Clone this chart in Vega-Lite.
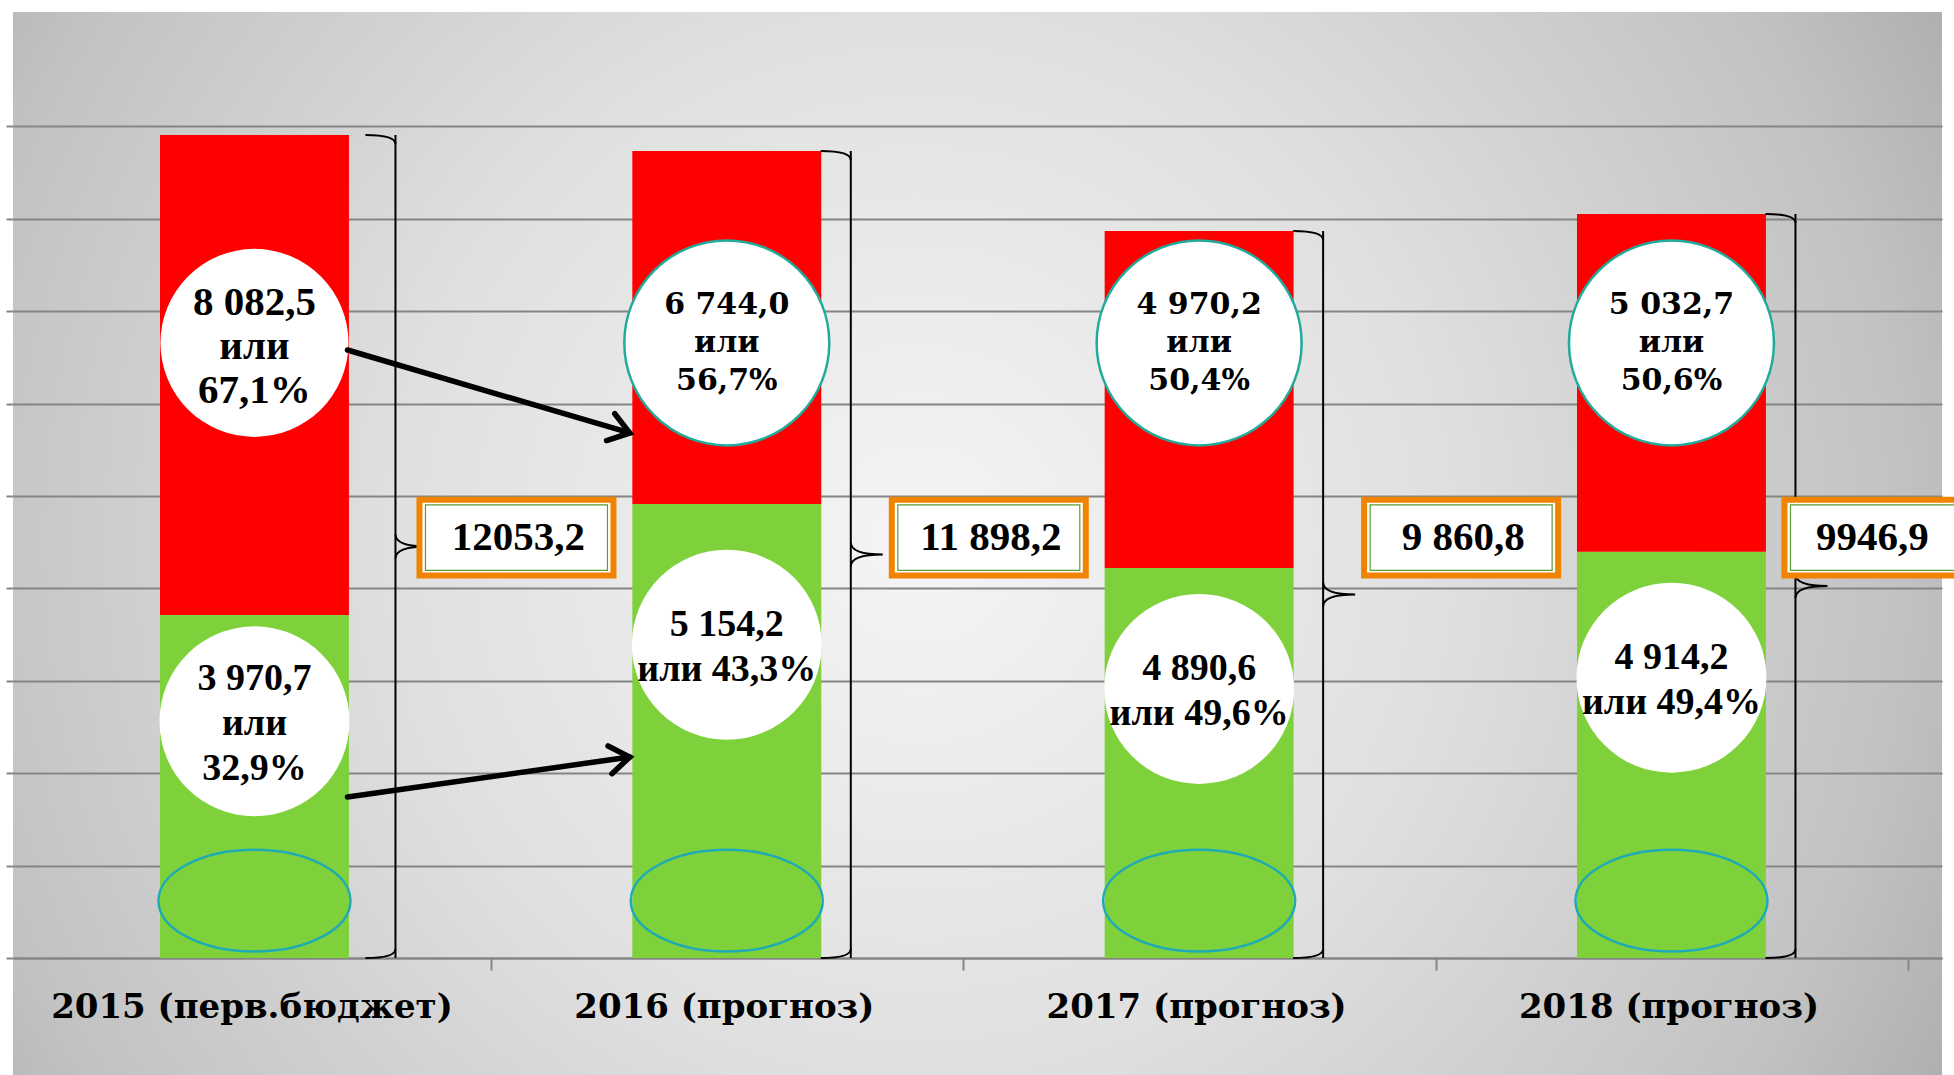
{
  "$schema": "https://vega.github.io/schema/vega-lite/v6.json",
  "autosize": "none",
  "width": 1929,
  "height": 1063,
  "padding": {"left": 13, "top": 12, "right": 12, "bottom": 0},
  "background": "#ffffff",
  "config": {
    "view": {
      "stroke": null,
      "fill": {
        "gradient": "radial", "x1": 0.47, "y1": 0.5, "r1": 0, "x2": 0.47, "y2": 0.5, "r2": 0.6,
        "stops": [
          {"offset": 0, "color": "#f5f5f5"},
          {"offset": 0.45, "color": "#e0e0e0"},
          {"offset": 0.85, "color": "#c2c2c2"},
          {"offset": 1, "color": "#afafaf"}
        ]
      }
    }
  },
  "datasets": {
    "main": [
      {"year": "2015 (перв.бюджет)", "part": "собственные доходы", "value": 3712, "label": "3 970,7\nили\n32,9%"},
      {"year": "2015 (перв.бюджет)", "part": "безвозмездные поступления", "value": 5195, "label": "8 082,5\nили\n67,1%"},
      {"year": "2016 (прогноз)", "part": "собственные доходы", "value": 4913, "label": "5 154,2\nили 43,3%"},
      {"year": "2016 (прогноз)", "part": "безвозмездные поступления", "value": 3821, "label": "6 744,0\nили\n56,7%"},
      {"year": "2017 (прогноз)", "part": "собственные доходы", "value": 4221, "label": "4 890,6\nили 49,6%"},
      {"year": "2017 (прогноз)", "part": "безвозмездные поступления", "value": 3647, "label": "4 970,2\nили\n50,4%"},
      {"year": "2018 (прогноз)", "part": "собственные доходы", "value": 4397, "label": "4 914,2\nили 49,4%"},
      {"year": "2018 (прогноз)", "part": "безвозмездные поступления", "value": 3655, "label": "5 032,7\nили\n50,6%"}
    ],
    "totals": [
      {"year": "2015 (перв.бюджет)", "top": 8907, "label": "12053,2"},
      {"year": "2016 (прогноз)", "top": 8734, "label": "11 898,2"},
      {"year": "2017 (прогноз)", "top": 7868, "label": "9 860,8"},
      {"year": "2018 (прогноз)", "top": 8052, "label": "9946,9"}
    ],
    "arrows": [
      {"from": "2015 (перв.бюджет)", "to": "2016 (прогноз)", "y0": 6580, "y1": 5682},
      {"from": "2015 (перв.бюджет)", "to": "2016 (прогноз)", "y0": 1742, "y1": 2175}
    ]
  },
  "layer": [
    {
      "data": {"name": "main"},
      "mark": {"type": "bar"},
      "encoding": {
        "x": {
          "field": "year", "type": "nominal", "sort": null,
          "scale": {"domain": ["2015 (перв.бюджет)", "2016 (прогноз)", "2017 (прогноз)", "2018 (прогноз)"], "paddingInner": 0.6, "paddingOuter": 0.342, "align": 0.455},
          "axis": {
            "title": null, "orient": "bottom", "offset": -117,
            "domainColor": "#858585", "domainWidth": 2,
            "bandPosition": 0, "tickOffset": 331, "labelOffset": -334,
            "tickColor": "#858585", "tickWidth": 2, "tickSize": 12,
            "labelFont": "DejaVu Serif", "labelFontWeight": "bold", "labelFontSize": 34, "labelColor": "#000000",
            "labelPadding": 20, "labelAngle": 0, "labelLimit": 800, "labelOverlap": false, "grid": false
          }
        },
        "y": {
          "field": "value", "type": "quantitative", "stack": "zero",
          "scale": {"domain": [-1266, 10238], "nice": false, "zero": false},
          "axis": {
            "title": null, "values": [0, 1000, 2000, 3000, 4000, 5000, 6000, 7000, 8000, 9000],
            "labels": false, "domain": false, "ticks": true, "tickSize": 7, "tickColor": "#858585", "tickWidth": 2,
            "grid": true, "gridColor": "#858585", "gridWidth": 2
          }
        },
        "color": {
          "field": "part", "type": "nominal",
          "scale": {"domain": ["безвозмездные поступления", "собственные доходы"], "range": ["#ff0000", "#7fd13b"]},
          "legend": null
        },
        "order": {"field": "part", "sort": "descending"}
      }
    },
    {
      "data": {"name": "main"},
      "transform": [{"filter": "datum.part == 'собственные доходы'"}],
      "mark": {
        "type": "point",
        "shape": "M -1 0 C -1 -0.293 -0.552 -0.53 0 -0.53 C 0.552 -0.53 1 -0.293 1 0 C 1 0.293 0.552 0.53 0 0.53 C -0.552 0.53 -1 0.293 -1 0 Z",
        "filled": false, "stroke": "#1fabb4", "strokeWidth": 2.5, "size": 36864, "opacity": 1
      },
      "encoding": {
        "x": {"field": "year", "type": "nominal"},
        "y": {"datum": 620, "type": "quantitative"}
      }
    },
    {
      "data": {"name": "main"},
      "transform": [{"filter": "datum.part == 'собственные доходы'"}],
      "mark": {"type": "point", "shape": "circle", "filled": true, "fill": "#ffffff", "opacity": 1, "fillOpacity": 1, "strokeWidth": 0, "size": 36100},
      "encoding": {
        "x": {"field": "year", "type": "nominal"},
        "y": {"field": "value", "type": "quantitative", "stack": "zero", "bandPosition": 0.69}
      }
    },
    {
      "data": {"name": "main"},
      "transform": [{"filter": "datum.part == 'собственные доходы'"}],
      "mark": {"type": "text", "align": "center", "baseline": "middle", "lineBreak": "\n", "fontWeight": "bold", "color": "#000000",
        "font": "Liberation Serif", "fontSize": 38, "lineHeight": 45,
        "yOffset": {"expr": "datum.year == '2015 (перв.бюджет)' ? -42 : -20"}},
      "encoding": {
        "x": {"field": "year", "type": "nominal"},
        "y": {"field": "value", "type": "quantitative", "stack": "zero", "bandPosition": 0.69},
        "text": {"field": "label", "type": "nominal"}
      }
    },
    {
      "data": {"name": "main"},
      "transform": [{"filter": "datum.part == 'безвозмездные поступления'"}],
      "mark": {
        "type": "point", "shape": "circle", "filled": true, "fill": "#ffffff", "opacity": 1, "fillOpacity": 1,
        "stroke": "#22ab9c",
        "strokeWidth": {"expr": "datum.year != '2015 (перв.бюджет)' ? 2.5 : 0"},
        "size": {"expr": "datum.year != '2015 (перв.бюджет)' ? 42025 : 35344"}
      },
      "encoding": {
        "x": {"field": "year", "type": "nominal"},
        "y": {"datum": 6657, "type": "quantitative"}
      }
    },
    {
      "data": {"name": "main"},
      "transform": [{"filter": "datum.part == 'безвозмездные поступления'"}],
      "mark": {
        "type": "text", "align": "center", "baseline": "middle", "lineBreak": "\n", "fontWeight": "bold", "color": "#000000",
        "font": {"expr": "datum.year != '2015 (перв.бюджет)' ? 'DejaVu Serif' : 'Liberation Serif'"},
        "fontSize": {"expr": "datum.year != '2015 (перв.бюджет)' ? 30 : 41"},
        "lineHeight": {"expr": "datum.year != '2015 (перв.бюджет)' ? 38 : 44"},
        "yOffset": {"expr": "datum.year != '2015 (перв.бюджет)' ? -38 : -40"}
      },
      "encoding": {
        "x": {"field": "year", "type": "nominal"},
        "y": {"datum": 6657, "type": "quantitative"},
        "text": {"field": "label", "type": "nominal"}
      }
    },
    {
      "data": {"name": "totals"},
      "mark": {"type": "rule", "color": "#000000", "strokeWidth": 2,
        "xOffset": {"expr": "datum.year == '2015 (перв.бюджет)' ? 141 : 124"}},
      "encoding": {
        "x": {"field": "year", "type": "nominal"},
        "y": {"field": "top", "type": "quantitative"},
        "y2": {"datum": 0}
      }
    },
    {
      "data": {"name": "totals"},
      "mark": {"type": "point", "shape": "M -1 0 Q 0 0 0 0.3", "filled": false, "stroke": "#000000", "strokeWidth": 2, "size": 3600, "opacity": 1,
        "xOffset": {"expr": "datum.year == '2015 (перв.бюджет)' ? 141 : 124"}},
      "encoding": {
        "x": {"field": "year", "type": "nominal"},
        "y": {"field": "top", "type": "quantitative"}
      }
    },
    {
      "data": {"name": "totals"},
      "mark": {"type": "point", "shape": "M -1 0 Q 0 0 0 -0.3", "filled": false, "stroke": "#000000", "strokeWidth": 2, "size": 3600, "opacity": 1,
        "xOffset": {"expr": "datum.year == '2015 (перв.бюджет)' ? 141 : 124"}},
      "encoding": {
        "x": {"field": "year", "type": "nominal"},
        "y": {"datum": 0, "type": "quantitative"}
      }
    },
    {
      "data": {"name": "totals"},
      "mark": {"type": "point", "shape": "M -0.8 -0.6 Q -0.8 0 0.8 0 Q -0.8 0 -0.8 0.6", "filled": false, "stroke": "#000000", "strokeWidth": 2, "size": 1600, "opacity": 1,
        "xOffset": {"expr": "datum.year == '2015 (перв.бюджет)' ? 157 : 140"}},
      "encoding": {
        "x": {"field": "year", "type": "nominal"},
        "y": {"field": "top", "type": "quantitative", "stack": "zero", "bandPosition": 0.5}
      }
    },
    {
      "data": {"name": "totals"},
      "mark": {"type": "point", "shape": "M -1 -0.39 L 1 -0.39 L 1 0.39 L -1 0.39 Z", "filled": true, "fill": "#ffffff", "fillOpacity": 1, "opacity": 1,
        "stroke": "#f08300", "strokeWidth": 6, "size": 37636,
        "xOffset": {"expr": "datum.year == '2018 (прогноз)' ? 210 : 262"}},
      "encoding": {
        "x": {"field": "year", "type": "nominal"},
        "y": {"datum": 4550, "type": "quantitative"}
      }
    },
    {
      "data": {"name": "totals"},
      "mark": {"type": "point", "shape": "M -1 -0.36 L 1 -0.36 L 1 0.36 L -1 0.36 Z", "filled": false, "opacity": 1,
        "stroke": "#5f9e2e", "strokeWidth": 1.2, "size": 33124,
        "xOffset": {"expr": "datum.year == '2018 (прогноз)' ? 210 : 262"}},
      "encoding": {
        "x": {"field": "year", "type": "nominal"},
        "y": {"datum": 4550, "type": "quantitative"}
      }
    },
    {
      "data": {"name": "totals"},
      "mark": {"type": "text", "align": "center", "baseline": "middle", "font": "Liberation Serif", "fontWeight": "bold", "fontSize": 41, "color": "#000000",
        "xOffset": {"expr": "datum.year == '2018 (прогноз)' ? 201 : 264"}},
      "encoding": {
        "x": {"field": "year", "type": "nominal"},
        "y": {"datum": 4550, "type": "quantitative"},
        "text": {"field": "label", "type": "nominal"}
      }
    },
    {
      "data": {"name": "arrows"},
      "mark": {"type": "rule", "color": "#000000", "strokeWidth": 5.5, "strokeCap": "round", "xOffset": 93, "x2Offset": -97},
      "encoding": {
        "x": {"field": "from", "type": "nominal"},
        "x2": {"field": "to"},
        "y": {"field": "y0", "type": "quantitative"},
        "y2": {"field": "y1"}
      }
    },
    {
      "data": {"name": "arrows"},
      "mark": {"type": "point", "shape": "M -1 -0.7 L 0 0 L -1 0.7", "filled": false, "stroke": "#000000", "strokeWidth": 5.5, "strokeCap": "round", "size": 1600, "opacity": 1,
        "xOffset": -97, "angle": {"expr": "datum.y1 < datum.y0 ? 17 : 352"}},
      "encoding": {
        "x": {"field": "to", "type": "nominal"},
        "y": {"field": "y1", "type": "quantitative"}
      }
    }
  ]
}
